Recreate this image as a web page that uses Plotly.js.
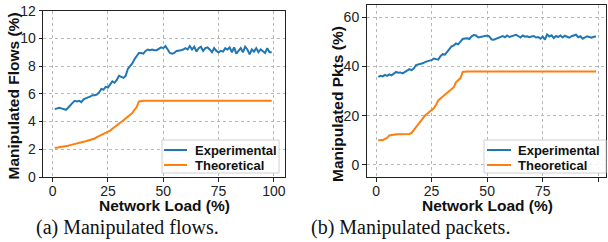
<!DOCTYPE html>
<html><head><meta charset="utf-8">
<script src="https://cdn.plot.ly/plotly-3.0.1.min.js"></script>
<style>html,body{margin:0;padding:0;background:#fff;}#chart{width:608px;height:242px;}</style>
</head><body><div id="chart"></div>
<script>
const loads = [1,2,3,4,5,6,7,8,9,10,11,12,13,14,15,16,17,18,19,20,21,22,23,24,25,26,27,28,29,30,31,32,33,34,35,36,37,38,39,40,41,42,43,44,45,46,47,48,49,50,51,52,53,54,55,56,57,58,59,60,61,62,63,64,65,66,67,68,69,70,71,72,73,74,75,76,77,78,79,80,81,82,83,84,85,86,87,88,89,90,91,92,93,94,95,96,97,98,99];

const flowsExperimental = [4.9,4.95,5.0,4.95,4.9,4.85,5.0,5.2,5.35,5.5,
5.45,5.5,5.4,5.6,5.7,5.75,5.8,5.9,5.9,5.95,
6.1,6.35,6.3,6.5,6.45,6.7,6.9,6.8,7.0,7.3,
7.25,7.15,7.3,7.8,8.0,8.2,8.5,8.7,8.95,8.95,
8.9,9.1,9.2,9.15,9.2,9.15,9.15,9.25,9.35,9.3,
9.45,9.2,8.95,8.9,8.95,9.1,9.1,9.15,9.2,9.3,
9.2,9.45,9.2,9.4,9.05,9.3,9.4,9.1,9.3,9.35,
9.2,9.0,9.3,9.1,9.0,9.1,9.05,9.3,9.2,9.35,
9.0,9.35,8.9,9.1,9.3,9.0,9.4,9.2,8.85,9.2,
9.05,9.3,9.0,9.2,9.1,8.95,9.3,9.0,9.0];

const flowsTheoretical = [2.1,2.12,2.15,2.18,2.2,2.22,2.25,2.3,2.35,2.4,
2.45,2.5,2.52,2.55,2.58,2.62,2.66,2.7,2.78,2.87,
2.95,3.03,3.1,3.18,3.27,3.35,3.48,3.62,3.75,3.85,
3.97,4.1,4.22,4.35,4.5,4.62,4.85,5.05,5.45,5.5,
5.5,5.5,5.5,5.5,5.5,5.5,5.5,5.5,5.5,5.5,
5.5,5.5,5.5,5.5,5.5,5.5,5.5,5.5,5.5,5.5,
5.5,5.5,5.5,5.5,5.5,5.5,5.5,5.5,5.5,5.5,
5.5,5.5,5.5,5.5,5.5,5.5,5.5,5.5,5.5,5.5,
5.5,5.5,5.5,5.5,5.5,5.5,5.5,5.5,5.5,5.5,
5.5,5.5,5.5,5.5,5.5,5.5,5.5,5.5,5.5];

const pktsExperimental = [35.8,36.2,36.0,36.6,36.2,36.8,36.4,37.2,37.8,37.5,
37.6,37.2,37.8,38.3,38.9,38.5,39.2,40.6,40.8,41.0,
41.3,41.8,42.2,42.4,42.6,43.2,43.0,42.8,44.2,45.0,
44.8,45.8,47.0,48.2,48.6,49.4,49.0,50.2,51.2,51.4,
51.5,51.2,52.3,52.8,52.6,51.8,52.0,51.9,52.4,52.6,
52.2,51.0,50.9,51.3,51.6,52.0,52.4,51.9,52.6,52.0,
52.3,52.8,52.9,52.4,51.8,52.6,52.1,52.3,51.9,52.2,
52.4,51.8,52.0,51.3,52.2,50.9,53.0,52.2,52.7,51.6,
52.4,52.0,52.6,51.8,52.5,52.1,51.7,52.3,52.6,52.9,
51.9,52.3,51.3,51.9,52.3,52.0,51.7,52.1,52.2];

const pktsTheoretical = [10.0,10.0,10.1,10.6,11.0,12.0,12.2,12.5,12.5,12.5,
12.5,12.5,12.5,12.5,12.6,13.0,14.2,15.2,16.3,17.5,
18.6,20.0,20.8,21.6,22.3,23.0,24.5,26.2,27.0,27.8,
28.8,29.6,30.2,31.0,31.6,33.6,34.4,35.3,37.8,38.0,
38,38,38,38,38,38,38,38,38,38,
38,38,38,38,38,38,38,38,38,38,
38,38,38,38,38,38,38,38,38,38,
38,38,38,38,38,38,38,38,38,38,
38,38,38,38,38,38,38,38,38,38,
38,38,38,38,38,38,38,38,38];

const xTicks = [0,25,50,75,100];
const flowsTicks = [0,2,4,6,8,10,12];
const pktsTicks = [0,20,40,60];
const seriesNames = ['Experimental','Theoretical'];
const xTitle = 'Network Load (%)';
const yTitles = ['Manipulated Flows (%)','Manipulated Pkts (%)'];
const captions = ['(a) Manipulated flows.','(b) Manipulated packets.'];

const BLUE = '#1f77b4', ORANGE = '#ff7f0e';
const COLORS = [BLUE, ORANGE];
const FONT = '"Liberation Sans", Arial, sans-serif';
const W = 608, H = 242;
const px = v => v / W;
const py = v => 1 - v / H;

const traces = [
  {x: loads, y: flowsExperimental, name: seriesNames[0], xaxis:'x', yaxis:'y', mode:'lines', line:{color:BLUE, width:2}},
  {x: loads, y: flowsTheoretical, name: seriesNames[1], xaxis:'x', yaxis:'y', mode:'lines', line:{color:ORANGE, width:2}},
  {x: loads, y: pktsExperimental, name: seriesNames[0], xaxis:'x2', yaxis:'y2', mode:'lines', line:{color:BLUE, width:2}},
  {x: loads, y: pktsTheoretical, name: seriesNames[1], xaxis:'x2', yaxis:'y2', mode:'lines', line:{color:ORANGE, width:2}}
];

function axisBase(extra){
  return Object.assign({
    showline:true, mirror:true, linecolor:'#222', linewidth:1.2,
    ticks:'outside', ticklen:3.5, tickwidth:1, tickcolor:'#222',
    showgrid:true, gridcolor:'#b8b8b8', gridwidth:1, griddash:'dot',
    zeroline:false, automargin:false,
    tickfont:{family:FONT, size:14, color:'#222'}
  }, extra);
}
const titleFont = {family:FONT, size:15.5, color:'#111', weight:'bold'};
const legendFont = {family:FONT, size:13, color:'#111', weight:'bold'};
const capFont = {family:'"Liberation Serif", "DejaVu Serif", serif', size:20, color:'#111'};

// legend boxes (decoration): [boxLeft, boxRight, lineStart, lineEnd, textStart]
const legendBoxes = [
  [162, 279, 164, 187, 193],
  [484, 606, 487, 511, 516]
];
const legendRowsY = [150, 165];
const legendTop = 140, legendBottom = 173;

const shapes = [];
const annotations = [];
legendBoxes.forEach(b => {
  shapes.push({type:'rect', xref:'paper', yref:'paper', x0:px(b[0]), x1:px(b[1]), y0:py(legendBottom), y1:py(legendTop),
    line:{color:'#d0d0d0', width:1}, fillcolor:'rgba(255,255,255,0.85)', layer:'above'});
  seriesNames.forEach((n, i) => {
    shapes.push({type:'line', xref:'paper', yref:'paper', x0:px(b[2]), x1:px(b[3]), y0:py(legendRowsY[i]), y1:py(legendRowsY[i]),
      line:{color:COLORS[i], width:2}, layer:'above'});
    annotations.push({text:n, xref:'paper', yref:'paper', x:px(b[4]), y:py(legendRowsY[i]), xanchor:'left', yanchor:'middle',
      showarrow:false, font:legendFont});
  });
});

// axis titles
annotations.push({text:xTitle, xref:'paper', yref:'paper', x:px(164), y:py(205), xanchor:'center', yanchor:'middle', showarrow:false, font:titleFont, borderpad:0});
annotations.push({text:xTitle, xref:'paper', yref:'paper', x:px(487), y:py(205), xanchor:'center', yanchor:'middle', showarrow:false, font:titleFont, borderpad:0});
annotations.push({text:yTitles[0], xref:'paper', yref:'paper', x:px(12.5), y:py(96), xanchor:'center', yanchor:'middle', textangle:-90, showarrow:false, font:titleFont, borderpad:0});
annotations.push({text:yTitles[1], xref:'paper', yref:'paper', x:px(337), y:py(104), xanchor:'center', yanchor:'middle', textangle:-90, showarrow:false, font:titleFont, borderpad:0});
// captions
annotations.push({text:captions[0], xref:'paper', yref:'paper', x:px(127), y:py(227), xanchor:'center', yanchor:'middle', showarrow:false, font:capFont, borderpad:0});
annotations.push({text:captions[1], xref:'paper', yref:'paper', x:px(410), y:py(227), xanchor:'center', yanchor:'middle', showarrow:false, font:capFont, borderpad:0});

const layout = {
  width:W, height:H,
  margin:{l:0, r:0, t:0, b:0},
  paper_bgcolor:'#fff', plot_bgcolor:'#fff',
  showlegend:false,
  xaxis: axisBase({domain:[px(43.3), px(285)], range:[-4.2,105], tickvals:xTicks, anchor:'y', ticklabelstandoff:-3}),
  yaxis: axisBase({domain:[py(177), py(10.7)], range:[0,12], tickvals:flowsTicks, anchor:'x'}),
  xaxis2: axisBase({domain:[px(366.7), px(606)], range:[-4.2,103.5], tickvals:xTicks, anchor:'y2', ticklabelstandoff:-3}),
  yaxis2: axisBase({domain:[py(177), py(5)], range:[-4.9,65], tickvals:pktsTicks, anchor:'x2'}),
  shapes: shapes,
  annotations: annotations
};

Plotly.newPlot('chart', traces, layout, {staticPlot:true, displayModeBar:false});
</script>
</body></html>
